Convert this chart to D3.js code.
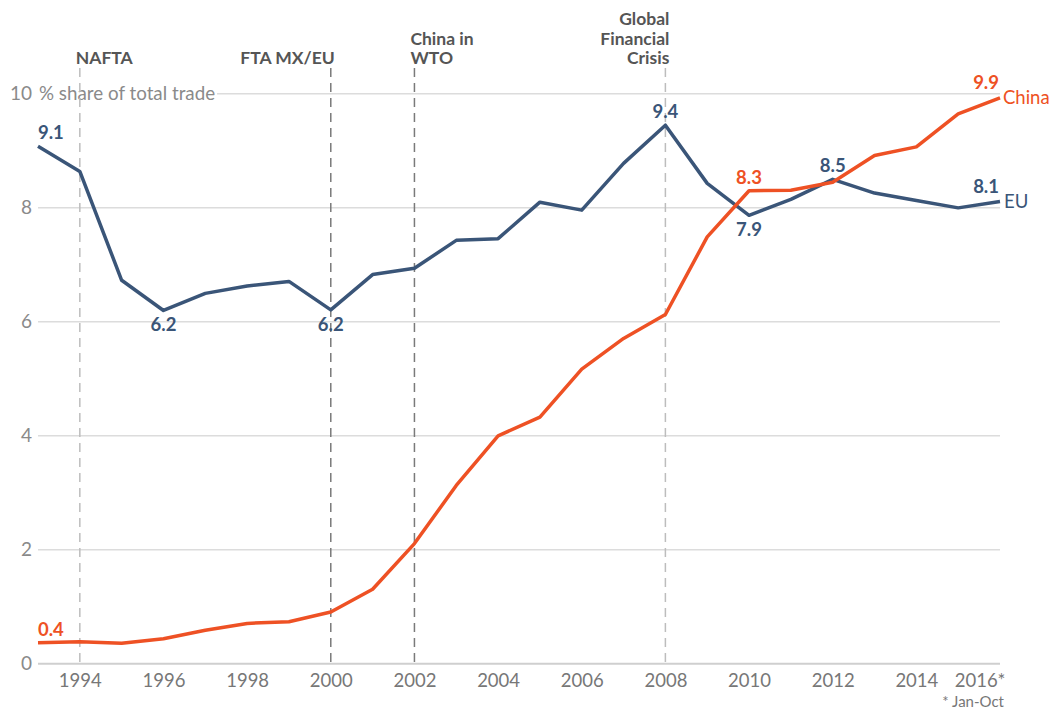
<!DOCTYPE html>
<html>
<head>
<meta charset="utf-8">
<script src="https://cdn.jsdelivr.net/npm/d3@7"></script>
<style>
  html, body { margin: 0; padding: 0; background: #fff; }
  svg { display: block; font-family: Lato, "Open Sans", sans-serif; }
</style>
</head>
<body>
<svg id="chart" width="1053" height="709"></svg>
<script>
// ---- data ----
const years = [1993,1994,1995,1996,1997,1998,1999,2000,2001,2002,2003,2004,2005,2006,2007,2008,2009,2010,2011,2012,2013,2014,2015,2016];
const euValues = [9.07,8.63,6.72,6.19,6.49,6.62,6.70,6.20,6.82,6.93,7.42,7.45,8.09,7.95,8.77,9.44,8.42,7.86,8.14,8.49,8.25,8.12,7.99,8.10];
const chinaValues = [0.36,0.38,0.35,0.43,0.58,0.70,0.73,0.90,1.30,2.10,3.12,3.99,4.32,5.16,5.70,6.12,7.48,8.29,8.30,8.44,8.91,9.06,9.64,9.92];
const yTicks = [0,2,4,6,8,10];
const xTicks = [1994,1996,1998,2000,2002,2004,2006,2008,2010,2012,2014,2016];
const xTickLabels = ["1994","1996","1998","2000","2002","2004","2006","2008","2010","2012","2014","2016*"];
const events = [
  {year:1994, lines:["NAFTA"], anchor:"start", dark:false},
  {year:2000, lines:["FTA MX/EU"], anchor:"end", dark:true},
  {year:2002, lines:["China in","WTO"], anchor:"start", dark:true},
  {year:2008, lines:["Global","Financial","Crisis"], anchor:"end", dark:false}
];
const euLabels = [
  {year:1993, text:"9.1", pos:"startAbove"},
  {year:1996, text:"6.2", pos:"below"},
  {year:2000, text:"6.2", pos:"below"},
  {year:2008, text:"9.4", pos:"above"},
  {year:2010, text:"7.9", pos:"below"},
  {year:2012, text:"8.5", pos:"above"},
  {year:2016, text:"8.1", pos:"endAbove"}
];
const chinaLabels = [
  {year:1993, text:"0.4", pos:"startAbove"},
  {year:2010, text:"8.3", pos:"above"},
  {year:2016, text:"9.9", pos:"endAbove"}
];

const EU_COLOR = "#3a5578";
const CN_COLOR = "#ee5124";

const svg = d3.select("#chart");
const mLeft = 38, mRight = 1000, mTop = 93.3, mBottom = 663.3;
const x = d3.scaleLinear().domain([1993, 2016]).range([mLeft, mRight]);
const y = d3.scaleLinear().domain([0, 10]).range([mBottom, mTop]);

// grid via axisLeft
const grid = svg.append("g")
  .attr("transform", `translate(${mLeft},0)`)
  .call(d3.axisLeft(y).tickValues(yTicks).tickSize(-(mRight - mLeft)).tickPadding(6).tickFormat(d3.format("d")));
grid.select(".domain").remove();
grid.selectAll(".tick line")
  .attr("stroke", d => d === 0 ? "#cfcfcf" : "#dcdcdc")
  .attr("stroke-width", d => d === 0 ? 2 : 1.5)
  .attr("x1", d => d === 10 ? (217 - mLeft) : 0);
grid.selectAll(".tick text")
  .attr("fill", "#8a8a8a")
  .attr("font-size", 19)
  .attr("font-family", "Lato, sans-serif");

svg.append("text")
  .attr("x", mLeft + 1).attr("y", y(10)).attr("dy", "0.35em")
  .attr("fill", "#8a8a8a").attr("font-size", 18.8)
  .text("% share of total trade");

// x axis
const xa = svg.append("g")
  .attr("transform", `translate(0,${mBottom})`)
  .call(d3.axisBottom(x).tickValues(xTicks).tickSize(0).tickPadding(11)
        .tickFormat((d, i) => xTickLabels[i]));
xa.select(".domain").remove();
xa.selectAll(".tick text")
  .attr("fill", "#777")
  .attr("font-size", 18.5)
  .attr("font-family", "Lato, sans-serif")
  .attr("text-anchor", d => d === 2016 ? "end" : "middle")
  .attr("dx", d => d === 2016 ? 5 : 0);
svg.append("text")
  .attr("x", mRight + 4).attr("y", 707)
  .attr("text-anchor", "end").attr("fill", "#777").attr("font-size", 15)
  .text("* Jan-Oct");

// event lines
const ev = svg.append("g");
events.forEach(e => {
  ev.append("line")
    .attr("x1", x(e.year)).attr("x2", x(e.year))
    .attr("y1", 68).attr("y2", mBottom)
    .attr("stroke", e.dark ? "#7a7a7a" : "#bdbdbd")
    .attr("stroke-width", 1.5)
    .attr("stroke-dasharray", "9,6");
  const n = e.lines.length;
  e.lines.forEach((t, i) => {
    ev.append("text")
      .attr("x", x(e.year) + (e.anchor === "start" ? -4 : 4))
      .attr("y", 64 - (n - 1 - i) * 19.5)
      .attr("text-anchor", e.anchor)
      .attr("fill", "#555")
      .attr("font-size", 17.5)
      .attr("font-weight", 700)
      .text(t);
  });
});

// lines
const line = d3.line().x((d, i) => x(years[i])).y(d => y(d));
svg.append("path").datum(euValues).attr("d", line)
  .attr("fill", "none").attr("stroke", EU_COLOR).attr("stroke-width", 3.5)
  .attr("stroke-linejoin", "round");
svg.append("path").datum(chinaValues).attr("d", line)
  .attr("fill", "none").attr("stroke", CN_COLOR).attr("stroke-width", 3.5)
  .attr("stroke-linejoin", "round");

// value labels
function addLabels(labels, values, color) {
  labels.forEach(l => {
    const i = years.indexOf(l.year);
    const px = x(l.year), py = y(values[i]);
    let tx = px, ty, anchor = "middle";
    if (l.pos === "below") { ty = py + 21; }
    else if (l.pos === "above") { ty = py - 7; }
    else if (l.pos === "startAbove") { anchor = "start"; tx = px; ty = py - 7; }
    else if (l.pos === "endAbove") { anchor = "end"; tx = px - 1; ty = py - 9; }
    svg.append("text")
      .attr("x", tx).attr("y", ty)
      .attr("text-anchor", anchor)
      .attr("fill", color).attr("font-size", 18.5).attr("font-weight", 700)
      .text(l.text);
  });
}
addLabels(euLabels, euValues, EU_COLOR);
addLabels(chinaLabels, chinaValues, CN_COLOR);

// series names
svg.append("text").attr("x", x(2016) + 3).attr("y", y(chinaValues[23])).attr("dy", "0.35em")
  .attr("fill", CN_COLOR).attr("font-size", 18.5).text("China");
svg.append("text").attr("x", x(2016) + 4).attr("y", y(euValues[23])).attr("dy", "0.35em")
  .attr("fill", EU_COLOR).attr("font-size", 18.5).text("EU");
</script>
</body>
</html>
